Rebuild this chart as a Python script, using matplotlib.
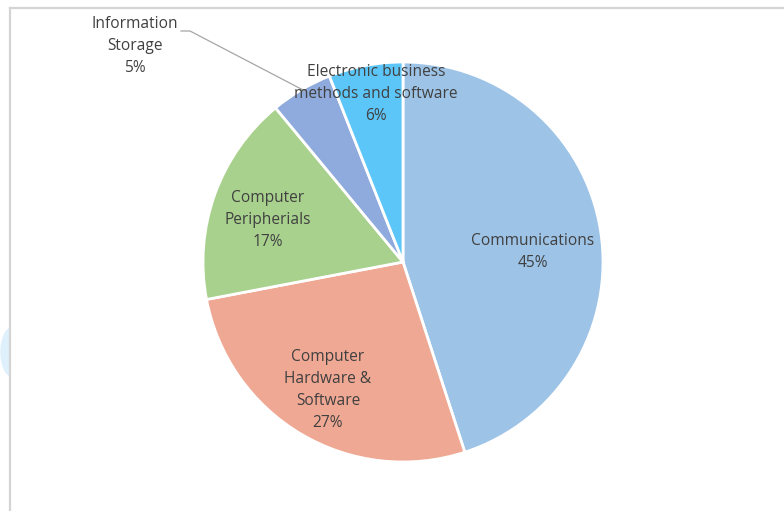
import matplotlib.pyplot as plt
from matplotlib.patches import Ellipse, Rectangle
from matplotlib.lines import Line2D

# slices, clockwise from 12 o'clock
labels = ["Communications", "Computer\nHardware &\nSoftware", "Computer\nPeripherials",
          "Information\nStorage", "Electronic business\nmethods and software"]
shares = [45, 27, 17, 5, 6]
colors = ["#9DC3E6", "#EFA893", "#A9D18E", "#8FAADC", "#5DC6F9"]

# label anchors in pixel coords (x, y from top)
label_pos = [(533, 252), (328, 390), (268, 220), (135, 46), (376, 94)]

W, H = 784, 511
fig = plt.figure(figsize=(W / 100, H / 100), dpi=100)
ax = fig.add_axes([0, 0, 1, 1])

ax.pie(shares, colors=colors, startangle=90, counterclock=False,
       center=(403, H - 262), radius=200,
       wedgeprops=dict(edgecolor="white", linewidth=2))

# pie() resets the limits, so set them afterwards
ax.set_xlim(0, W)
ax.set_ylim(0, H)
ax.set_aspect("equal")
ax.axis("off")

# faint artifact at the left edge
blob = Ellipse((12, H - 352), 22, 48, color="#DDF0FB", zorder=0)
ax.add_patch(blob)
clip = Rectangle((0, 0), 10, H, transform=ax.transData, visible=False)
ax.add_patch(clip)
blob.set_clip_path(clip)

# chart frame
ax.add_line(Line2D([10.5, 10.5], [0, H - 7.5], color="#D4D4D4", lw=1.6))
ax.add_line(Line2D([10.5, W], [H - 7.5, H - 7.5], color="#D4D4D4", lw=1.6))

for lab, val, (x, y) in zip(labels, shares, label_pos):
    ax.text(x, H - y, f"{lab}\n{val}%", ha="center", va="center",
            fontsize=11.2, color="#404040", linespacing=1.5,
            family=["Open Sans", "DejaVu Sans"])

# leader line for Information Storage
ax.plot([181, 190, 305], [H - 31, H - 31, H - 91], color="#A6A6A6", lw=0.9)

fig.savefig("out.png", dpi=100)
